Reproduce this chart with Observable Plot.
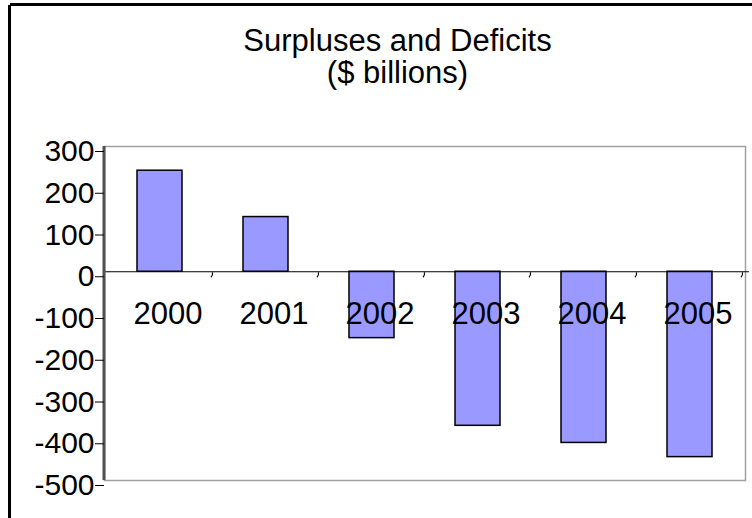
<!DOCTYPE html>
<html>
<head>
<meta charset="utf-8">
<script src="https://cdn.jsdelivr.net/npm/d3@7"></script>
<script src="https://cdn.jsdelivr.net/npm/@observablehq/plot@0.6"></script>
<style>
  html, body { margin: 0; padding: 0; background: #fff; }
  #wrap { position: relative; width: 752px; height: 518px; overflow: hidden; font-family: "Liberation Sans", Arial, sans-serif; }
  #borderTop { position: absolute; left: 10px; top: 3px; width: 742px; height: 3px; background: #000; }
  #borderLeft { position: absolute; left: 8px; top: 5px; width: 3px; height: 513px; background: #000; }
  #title { position: relative; height: 126px; }
  .t { position: absolute; left: 0; width: 795px; text-align: center; font-size: 31px; line-height: 26px; color: #000; }
  #chart svg { display: block; overflow: visible; }
</style>
</head>
<body>
<div id="wrap">
  <div id="title">
    <div class="t" style="top:28px">Surpluses and Deficits</div>
    <div class="t" style="top:60px">($ billions)</div>
  </div>
  <div id="chart"></div>
  <div id="borderTop"></div>
  <div id="borderLeft"></div>
</div>
<script>
const years = ["2000", "2001", "2002", "2003", "2004", "2005"];
const values = [242, 131, -159, -369, -410, -444];
const yTicks = [300, 200, 100, 0, -100, -200, -300, -400, -500];

const data = years.map((y, i) => ({year: y, value: values[i]}));

// thick dark vertical axis line at the left edge of the frame
function leftAxisLine(index, scales, values, dimensions) {
  const {marginLeft, marginTop, height, marginBottom} = dimensions;
  const g = d3.create("svg:g");
  g.append("line")
    .attr("x1", marginLeft).attr("x2", marginLeft)
    .attr("y1", marginTop).attr("y2", height - marginBottom)
    .attr("stroke", "#505050").attr("stroke-width", 3);
  return g.node();
}

// small category-boundary ticks hanging below the zero line
function categoryTicks(index, scales) {
  const x = scales.x, y = scales.y;
  const bw = x.bandwidth(), st = x.step();
  const y0 = y(0);
  const g = d3.create("svg:g");
  years.forEach(yr => {
    const bx = x(yr) + bw / 2 + st / 2;
    g.append("path")
      .attr("d", `M${bx},${y0 + 1}q0.5,3 -1.5,5`)
      .attr("fill", "none").attr("stroke", "#000").attr("stroke-width", 1.2);
  });
  return g.node();
}

const chart = Plot.plot({
  width: 752,
  height: 392,
  marginTop: 20,
  marginBottom: 38,
  marginLeft: 104,
  marginRight: 7,
  style: {fontFamily: "'Liberation Sans', Arial, sans-serif", background: "white", color: "black"},
  x: {domain: years, paddingInner: 0.58, paddingOuter: 0.29, axis: null},
  y: {domain: [-500, 300], axis: null},
  marks: [
    Plot.frame({stroke: "#a0a0a0", strokeWidth: 1.5}),
    Plot.barY(data, {x: "year", y: "value", fill: "#9999ff", stroke: "#000", strokeWidth: 1.5}),
    Plot.ruleY([0], {stroke: "#000", strokeWidth: 1.2, insetRight: -4}),
    categoryTicks,
    leftAxisLine,
    Plot.axisY({ticks: yTicks, tickSize: 9, tickPadding: 1, fontSize: 30, dy: 5, label: null,
                tickFormat: d => String(d), stroke: "#000", fill: "#000"}),
    Plot.text(data, {x: "year", y: 0, text: "year", dy: 42, dx: 8, fontSize: 31, fill: "#000"})
  ]
});
document.getElementById("chart").appendChild(chart);
</script>
</body>
</html>
